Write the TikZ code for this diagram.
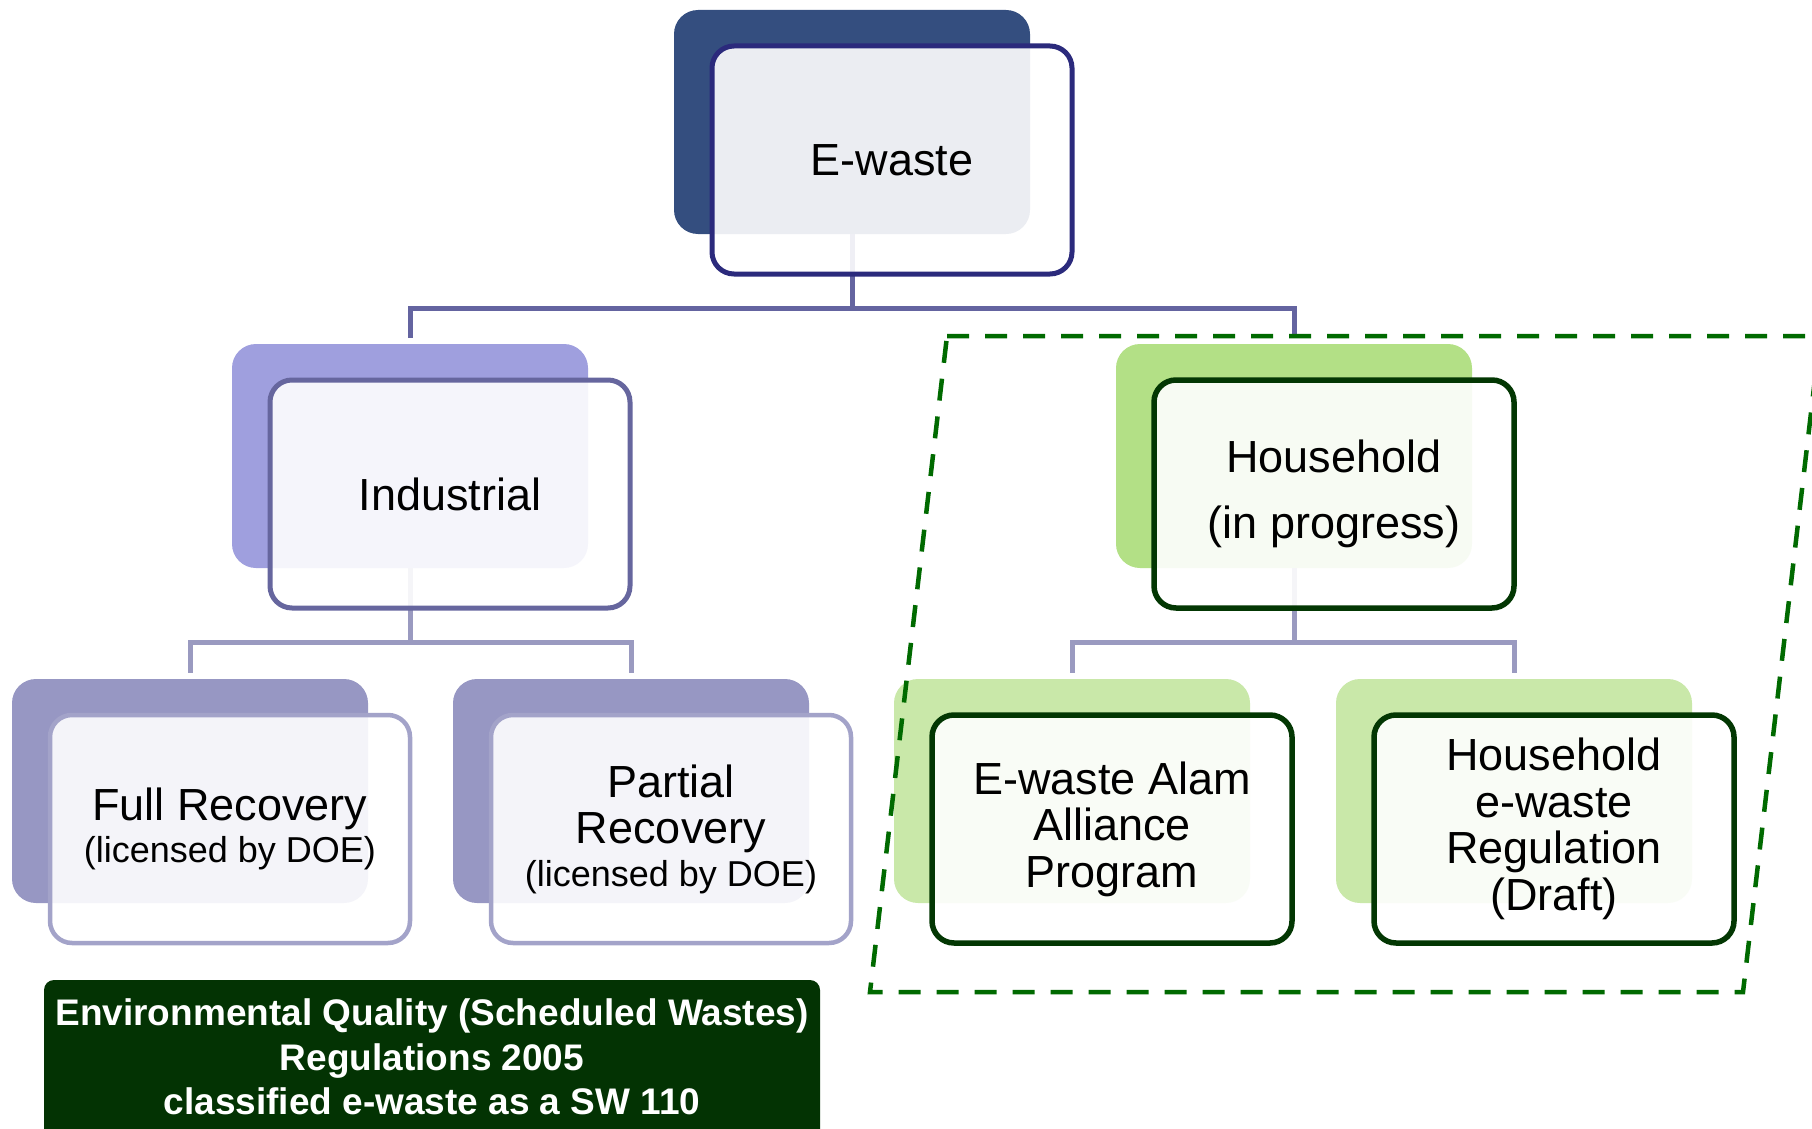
\documentclass[tikz,border=0pt]{standalone}
\usepackage{fontspec}
\setmainfont{Liberation Sans}
\usetikzlibrary{positioning}

\definecolor{topback}{HTML}{344E7F}
\definecolor{topline}{HTML}{2B2A7C}
\definecolor{midback}{HTML}{9F9FDE}
\definecolor{midline}{HTML}{66669E}
\definecolor{leafback}{HTML}{9797C3}
\definecolor{leafline}{HTML}{A3A3C9}
\definecolor{hhback}{HTML}{B3E086}
\definecolor{hhleaf}{HTML}{C9E8A9}
\definecolor{greenline}{HTML}{033703}
\definecolor{dashgreen}{HTML}{006A00}
\definecolor{barA}{HTML}{6464A0}
\definecolor{barB}{HTML}{9A9AC0}
\definecolor{regbg}{HTML}{033303}

\begin{document}
\begin{tikzpicture}[x=1pt,y=-1pt,
    back/.style={rounded corners=24pt, minimum width=356pt, minimum height=224pt, inner sep=0pt},
    card/.style={draw=#1, line width=5pt, rounded corners=22pt, fill=white, fill opacity=0.9,
      text=black, text opacity=1, minimum width=360pt, minimum height=228pt, inner sep=0pt,
      align=center, font=\fontsize{45}{46.5}\selectfont},
    conn/.style={line width=5pt, shorten >=6pt},
    dashbox/.style={dashgreen, line width=4.5pt, dash pattern=on 22pt off 16pt}]
  \useasboundingbox (0,0) rectangle (1812,1129);
  \clip (0,0) rectangle (1812,1129);

  % back plates
  \foreach \name/\x/\y/\bk in {ewaste/892/160/topback, industrial/450/494/midback,
      household/1334/494/hhback, full/230/829/leafback, partial/671/829/leafback,
      alam/1112/829/hhleaf, hhreg/1554/829/hhleaf} {
    \node[back, fill=\bk] (\name-b) at (\x-40,\y-38) {};
  }

  % connectors
  \draw[conn, barA] (ewaste-b.south) -- ++(0,74) -| (industrial-b.north);
  \draw[conn, barA] (ewaste-b.south) -- ++(0,74) -| (household-b.north);
  \draw[conn, barB] (industrial-b.south) -- ++(0,74) -| (full-b.north);
  \draw[conn, barB] (industrial-b.south) -- ++(0,74) -| (partial-b.north);
  \draw[conn, barB] (household-b.south) -- ++(0,74) -| (alam-b.north);
  \draw[conn, barB] (household-b.south) -- ++(0,74) -| (hhreg-b.north);

  % cards
  \node[card=topline] (ewaste) at (892,160) {E-waste};
  \node[card=midline] (industrial) at (450,494) {Industrial};
  \node[card=greenline, line width=5.5pt] (household) at (1334,494) {Household\\[19pt](in progress)};
  \node[card=leafline, line width=4.5pt] (full) at (230,829)
    {Full Recovery\\[-4pt]{\fontsize{36}{40}\selectfont(licensed by DOE)}};
  \node[card=leafline, line width=4.5pt] (partial) at (671,829)
    {Partial\\Recovery\\[-4pt]{\fontsize{36}{40}\selectfont(licensed by DOE)}};
  \node[card=greenline, line width=5.5pt] (alam) at (1112,829) {E-waste Alam\\Alliance\\Program};
  \node[card=greenline, line width=5.5pt] (hhreg) at (1554,829)
    {Household\\e-waste\\Regulation\\(Draft)};

  % household scope
  \draw[dashbox] (947,336) -- (1820,336) -- (1743,992) -- (870,992) -- cycle;

  % regulation note
  \fill[regbg, rounded corners=10pt] (44,1150) rectangle (820,980);
  \node[text=white, align=center, font=\fontsize{37}{44.5}\selectfont\bfseries] (regnote) at (432,1057)
    {Environmental Quality (Scheduled Wastes)\\Regulations 2005\\classified e-waste as a SW 110};
\end{tikzpicture}
\end{document}
